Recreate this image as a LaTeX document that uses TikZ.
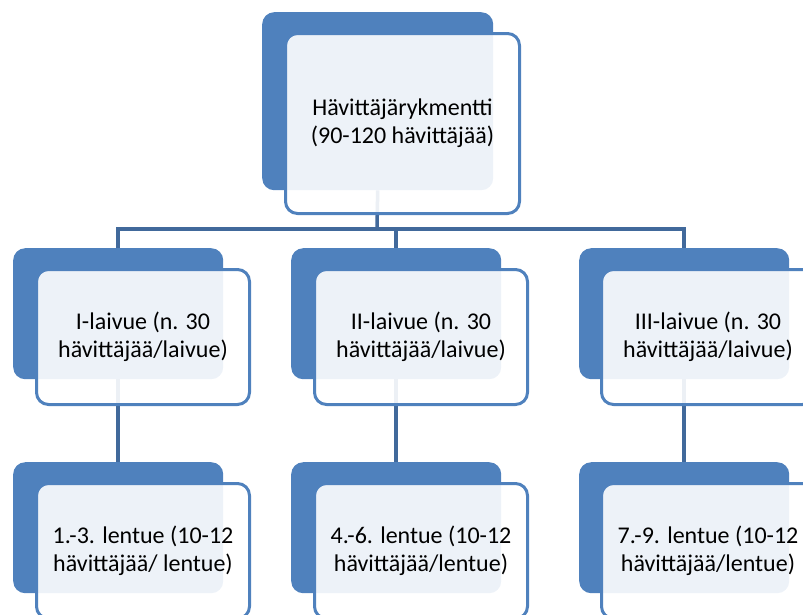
\documentclass[tikz,border=0pt]{standalone}
\usepackage{fontspec}
\setmainfont{Carlito}
\definecolor{accent}{RGB}{79,129,189}
\definecolor{connc}{RGB}{65,105,155}
\tikzset{
  backbox/.style={fill=accent, rounded corners=12pt, minimum width=210pt,
    minimum height=131pt, anchor=north west, inner sep=0pt},
  frontbox/.style={draw=accent, line width=3pt, fill=white, fill opacity=0.9,
    text opacity=1, rounded corners=12pt, minimum width=213pt,
    minimum height=135pt, anchor=north west, align=center, inner sep=2pt,
    font=\fontsize{24}{28}\selectfont, text=black},
  connline/.style={draw=connc, line width=3.5pt}
}
\begin{document}
\begin{tikzpicture}[x=1pt,y=-1pt]
\useasboundingbox (0,0) rectangle (803,614);
\clip (0,0) rectangle (803,614);
% back boxes
\node[backbox, minimum width=231pt, minimum height=178pt] (tb) at (262,12) {};
\node[backbox] (b1) at (13,248) {};
\node[backbox] (b2) at (291,248) {};
\node[backbox] (b3) at (579,248) {};
\node[backbox] (c1) at (13,462) {};
\node[backbox] (c2) at (291,462) {};
\node[backbox] (c3) at (579,462) {};
% connectors
\coordinate (bus) at (377,229);
\draw[connline] (tb.south) -- (bus);
\draw[connline] (b1.north) |- (bus) -| (b3.north);
\draw[connline] (bus -| b2.north) -- (b2.north);
\draw[connline] (b1.south) -- (c1.north);
\draw[connline] (b2.south) -- (c2.north);
\draw[connline] (b3.south) -- (c3.north);
% front boxes
\node[frontbox, minimum width=234pt, minimum height=180pt] (tf) at (284,32)
  {Hävittäjärykmentti\\(90-120 hävittäjää)};
\node[frontbox] (f1) at (35,268) {I-laivue (n. 30\\hävittäjää/laivue)};
\node[frontbox] (f2) at (313,268) {II-laivue (n. 30\\hävittäjää/laivue)};
\node[frontbox] (f3) at (600,268) {III-laivue (n. 30\\hävittäjää/laivue)};
\node[frontbox] (g1) at (35,482) {1.-3. lentue (10-12\\hävittäjää/ lentue)};
\node[frontbox] (g2) at (313,482) {4.-6. lentue (10-12\\hävittäjää/lentue)};
\node[frontbox] (g3) at (600,482) {7.-9. lentue (10-12\\hävittäjää/lentue)};
\end{tikzpicture}
\end{document}
